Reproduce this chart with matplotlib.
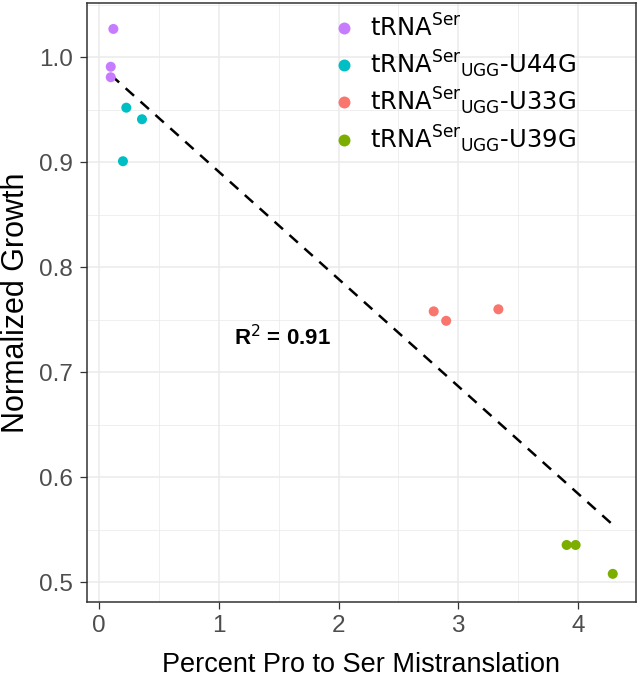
import numpy as np
import matplotlib
matplotlib.use("Agg")
import matplotlib.pyplot as plt
from matplotlib.ticker import MultipleLocator, FuncFormatter
from matplotlib.lines import Line2D

# ---- data ----
groups = ["tRNA$^{\\mathrm{Ser}}$",
          "tRNA$^{\\mathrm{Ser}}{}_{\\mathrm{UGG}}$-U44G",
          "tRNA$^{\\mathrm{Ser}}{}_{\\mathrm{UGG}}$-U33G",
          "tRNA$^{\\mathrm{Ser}}{}_{\\mathrm{UGG}}$-U39G"]
colors = ["#C77CFF", "#00BFC4", "#F8766D", "#7CAE00"]
wt_x = [0.12, 0.098, 0.098]
wt_y = [1.027, 0.991, 0.981]
u44_x = [0.228, 0.359, 0.20]
u44_y = [0.952, 0.941, 0.901]
u33_x = [2.795, 2.899, 3.335]
u33_y = [0.758, 0.749, 0.760]
u39_x = [3.905, 3.98, 4.29]
u39_y = [0.5355, 0.5355, 0.508]
r2_label = "R$^{2}$ = 0.91"
x_title = "Percent Pro to Ser Mistranslation"
y_title = "Normalized Growth"

xs = [wt_x, u44_x, u33_x, u39_x]
ys = [wt_y, u44_y, u33_y, u39_y]

fig = plt.figure(figsize=(6.41, 6.77), dpi=100)
L, R, T, B = 86.7, 635.5, 3.0, 602.0
ax = fig.add_axes([L/641, 1-B/677, (R-L)/641, (B-T)/677])

ax.set_xlim(-0.1027, 4.480)
ax.set_ylim(0.4812, 1.0517)

# grid
ax.xaxis.set_major_locator(MultipleLocator(1))
ax.xaxis.set_minor_locator(MultipleLocator(0.5))
ax.yaxis.set_major_locator(MultipleLocator(0.1))
ax.yaxis.set_minor_locator(MultipleLocator(0.05))
ax.grid(True, which="major", color="#EBEBEB", linewidth=1.1, zorder=0)
ax.grid(True, which="minor", color="#EBEBEB", linewidth=0.55, zorder=0)
ax.set_axisbelow(True)
ax.tick_params(which="minor", length=0)
ax.tick_params(which="major", length=5, width=0.9, color="#333333",
               labelcolor="#4D4D4D", labelsize=17.5)
ax.tick_params(axis="y", pad=5)
ax.tick_params(axis="x", pad=4.3)
ax.xaxis.set_major_formatter(FuncFormatter(lambda v, p: f"{v:.0f}"))
ax.yaxis.set_major_formatter(FuncFormatter(lambda v, p: f"{v:.1f}"))
for lab in ax.get_xticklabels() + ax.get_yticklabels():
    lab.set_fontfamily("Liberation Sans")
for s in ax.spines.values():
    s.set_color("#333333")
    s.set_linewidth(1.1)

# regression line
allx = np.concatenate([np.array(a) for a in xs])
ally = np.concatenate([np.array(a) for a in ys])
m, b = np.polyfit(allx, ally, 1)
lx = np.array([allx.min(), allx.max()])
ax.plot(lx, m*lx + b, color="black", linestyle=(0, (4.5, 3.5)), linewidth=1.8, zorder=2)

for x, y, c in zip(xs, ys, colors):
    ax.scatter(x, y, s=52, color=c, edgecolors="none", zorder=3)

ax.text(1.53, 0.733, r2_label, fontsize=16, fontweight="bold",
        fontfamily="Liberation Sans", ha="center", va="center")

ax.set_xlabel(x_title, fontsize=19.5, fontfamily="Liberation Sans")
ax.set_ylabel(y_title, fontsize=22, fontfamily="Liberation Sans")
ax.xaxis.set_label_coords(0.5, -(651.5-B)/(B-T))
ax.yaxis.set_label_coords((31.5-L)/(R-L), 0.5)

handles = [Line2D([], [], marker="o", linestyle="none", markersize=8.6,
                  markerfacecolor=c, markeredgecolor="none") for c in colors]
leg = ax.legend(handles, groups, loc="upper left",
                bbox_to_anchor=(320/641, 1-5/677), bbox_transform=fig.transFigure,
                frameon=False, fontsize=17.5, handletextpad=0.44,
                labelspacing=0.26, handlelength=1.2, borderaxespad=0)

fig.savefig("out.png", dpi=100)
